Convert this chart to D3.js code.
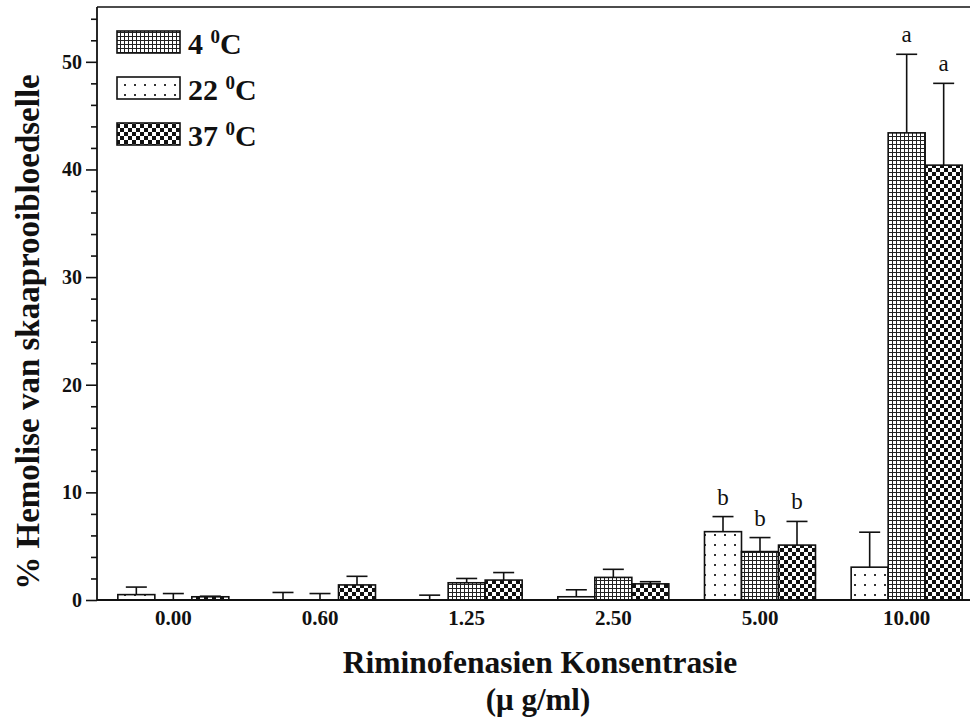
<!DOCTYPE html>
<html><head><meta charset="utf-8">
<script src="https://cdn.jsdelivr.net/npm/d3@7/dist/d3.min.js"></script>
<style>
body{margin:0;background:#fff}
svg{display:block}
text{font-family:"Liberation Serif","Times New Roman",serif;fill:#111}
</style>
</head><body><svg id="chart" width="970" height="726"></svg>
<script>
// ---- data ----
const categories = ["0.00","0.60","1.25","2.50","5.00","10.00"];
// bar order inside each group (left to right), as drawn in the figure
const barSeries = ["t22","t4","t37"];
const t22 = [0.5, 0.0, 0.0, 0.3, 6.35, 3.05];
const t22Err = [0.7, 0.7, 0.45, 0.65, 1.4, 3.25];
const t4 = [0.0, 0.0, 1.6, 2.1, 4.5, 43.4];
const t4Err = [0.6, 0.6, 0.4, 0.75, 1.3, 7.3];
const t37 = [0.3, 1.4, 1.85, 1.5, 5.1, 40.4];
const t37Err = [0.05, 0.8, 0.7, 0.2, 2.2, 7.6];
const t22Sig = ["","","","","b",""];
const t4Sig = ["","","","","b","a"];
const t37Sig = ["","","","","b","a"];
const legendOrder = ["t4","t22","t37"];
const legendTemps = {t4:"4", t22:"22", t37:"37"};
const yMajorTicks = [0,10,20,30,40,50];
const yMinorTicks = [2,4,6,8,12,14,16,18,22,24,26,28,32,34,36,38,42,44,46,48,52,54];
const xTitle = "Riminofenasien Konsentrasie";
const xUnit = "(\u03bc g/ml)";
const yTitle = "% Hemolise van skaaprooibloedselle";

const values = {t22, t4, t37};
const errs = {t22: t22Err, t4: t4Err, t37: t37Err};
const sigs = {t22: t22Sig, t4: t4Sig, t37: t37Sig};
const patternOf = {t4:"pGrid", t22:"pDots", t37:"pCheck"};

// ---- layout ----
const svg = d3.select("#chart");
const axisX = 97, baseY = 600, topY = 7;
const x = d3.scaleBand().domain(categories).range([100, 980]).padding(0);
const groupW = 111;
const sub = d3.scaleBand().domain(barSeries).range([0, groupW]);
const y = d3.scaleLinear().domain([0, 55]).range([baseY, 8]);
const ink = "#111";

// ---- patterns ----
const defs = svg.append("defs");
const pg = defs.append("pattern").attr("id","pGrid").attr("patternUnits","userSpaceOnUse").attr("width",4).attr("height",4);
pg.append("rect").attr("width",4).attr("height",4).attr("fill","#fff");
pg.append("rect").attr("width",4).attr("height",1).attr("fill","#222");
pg.append("rect").attr("width",1).attr("height",4).attr("fill","#222");
const pd = defs.append("pattern").attr("id","pDots").attr("patternUnits","userSpaceOnUse").attr("width",10).attr("height",10);
pd.append("rect").attr("width",10).attr("height",10).attr("fill","#fff");
pd.append("rect").attr("x",4).attr("y",4).attr("width",2).attr("height",2).attr("fill","#333");
const pc = defs.append("pattern").attr("id","pCheck").attr("patternUnits","userSpaceOnUse").attr("width",8).attr("height",8);
pc.append("rect").attr("width",8).attr("height",8).attr("fill","#fff");
pc.append("rect").attr("width",4).attr("height",4).attr("fill","#111");
pc.append("rect").attr("x",4).attr("y",4).attr("width",4).attr("height",4).attr("fill","#111");

// ---- bars ----
const rows = [];
categories.forEach((c, i) => barSeries.forEach(s => rows.push({c, s, v: values[s][i], e: errs[s][i], sig: sigs[s][i]})));
const bx = d => x(d.c) + x.bandwidth()/2 - groupW/2 + sub(d.s);
const bars = svg.append("g");
bars.selectAll("rect").data(rows).join("rect")
  .attr("x", bx).attr("width", sub.bandwidth())
  .attr("y", d => y(d.v)).attr("height", d => baseY - y(d.v))
  .attr("fill", d => `url(#${patternOf[d.s]})`)
  .attr("stroke", ink).attr("stroke-width", 1.6);

// error bars
const eb = svg.append("g").attr("stroke", ink).attr("stroke-width", 1.6);
rows.forEach(d => {
  const cx = bx(d) + sub.bandwidth()/2;
  eb.append("line").attr("x1", cx).attr("x2", cx).attr("y1", y(d.v)).attr("y2", y(d.v + d.e));
  eb.append("line").attr("x1", cx - 10.5).attr("x2", cx + 10.5).attr("y1", y(d.v + d.e)).attr("y2", y(d.v + d.e));
});
// significance letters
svg.append("g").selectAll("text").data(rows.filter(d => d.sig)).join("text")
  .attr("x", d => bx(d) + sub.bandwidth()/2)
  .attr("y", d => y(d.v + d.e) - 12)
  .attr("text-anchor","middle").attr("font-size", 23)
  .text(d => d.sig);

// ---- axes ----
const yAx = svg.append("g").attr("transform", `translate(${axisX},0)`)
  .call(d3.axisLeft(y).tickValues(yMajorTicks).tickSize(11).tickPadding(4).tickFormat(d3.format("d")));
yAx.select(".domain").remove();
yAx.selectAll("line").attr("stroke", ink).attr("stroke-width", 1.6);
yAx.selectAll("text").attr("font-size", 20).attr("font-weight","bold").attr("fill", ink)
  .attr("font-family","Liberation Serif");
const yMin = svg.append("g").attr("transform", `translate(${axisX},0)`)
  .call(d3.axisLeft(y).tickValues(yMinorTicks).tickSize(6).tickFormat(""));
yMin.select(".domain").remove();
yMin.selectAll("line").attr("stroke", ink).attr("stroke-width", 1.6);

const xAx = svg.append("g").attr("transform", `translate(0,${baseY})`)
  .call(d3.axisBottom(x).tickSize(0).tickPadding(10));
xAx.select(".domain").remove();
xAx.selectAll("text").attr("font-size", 21).attr("font-weight","bold").attr("fill", ink)
  .attr("font-family","Liberation Serif");

// frame lines
svg.append("line").attr("x1", axisX).attr("x2", axisX).attr("y1", topY).attr("y2", baseY)
  .attr("stroke", ink).attr("stroke-width", 1.8);
svg.append("line").attr("x1", axisX).attr("x2", 970).attr("y1", baseY).attr("y2", baseY)
  .attr("stroke", ink).attr("stroke-width", 1.8);
svg.append("line").attr("x1", axisX).attr("x2", 970).attr("y1", topY).attr("y2", topY)
  .attr("stroke", ink).attr("stroke-width", 1.6);

// titles
svg.append("text").attr("x", 540).attr("y", 673).attr("text-anchor","middle")
  .attr("font-size", 31.5).attr("font-weight","bold").text(xTitle);
svg.append("text").attr("x", 538).attr("y", 710).attr("text-anchor","middle")
  .attr("font-size", 31).attr("font-weight","bold").text(xUnit);
svg.append("text").attr("transform", "translate(39,332) rotate(-90)").attr("text-anchor","middle")
  .attr("font-size", 33).attr("font-weight","bold").text(yTitle);

// legend
const lg = svg.append("g");
legendOrder.forEach((s, i) => {
  const top = 31 + i * 46;
  lg.append("rect").attr("x", 117).attr("y", top).attr("width", 63).attr("height", 22)
    .attr("fill", `url(#${patternOf[s]})`).attr("stroke", ink).attr("stroke-width", 1.6);
  const t = lg.append("text").attr("x", 188).attr("y", top + 23).attr("font-size", 30).attr("font-weight","bold");
  t.append("tspan").text(legendTemps[s] + " ");
  t.append("tspan").attr("font-size", 19).attr("dy", -11).text("0");
  t.append("tspan").attr("dy", 11).text("C");
});
</script></body></html>
